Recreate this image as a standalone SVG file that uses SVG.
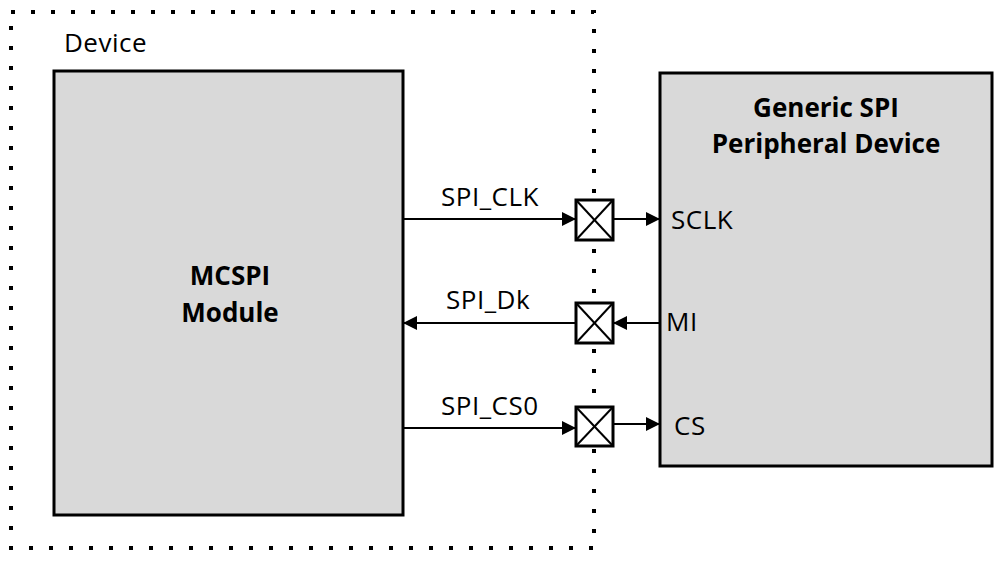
<svg xmlns="http://www.w3.org/2000/svg" width="995" height="572" viewBox="0 0 995 572">
<defs>
<marker id="ah" markerWidth="14" markerHeight="14" refX="13" refY="7" orient="auto" markerUnits="userSpaceOnUse" viewBox="0 0 14 14">
<path d="M0,0 L14,7 L0,14 z" fill="#000"/>
</marker>
<style>
.t{font-family:"Open Sans","Liberation Sans",sans-serif;font-size:26px;fill:#000;letter-spacing:0.5px}
.b{font-weight:bold;letter-spacing:0}
.box{fill:#d9d9d9;stroke:#000;stroke-width:3}
.dot{fill:none;stroke:#000;stroke-width:4;stroke-dasharray:4 16}
.ln{stroke:#000;stroke-width:2;fill:none}
.x{fill:#fff;stroke:#000;stroke-width:3}
.xl{stroke:#000;stroke-width:2}
</style>
</defs>
<g id="device">
<rect class="dot" x="11" y="12" width="583" height="536"/>
<text class="t" x="64" y="52">Device</text>
</g>
<g id="mcspi">
<rect class="box" x="54" y="71" width="349" height="444"/>
<text class="t b" x="230" y="285" text-anchor="middle">MCSPI</text>
<text class="t b" x="230" y="322" text-anchor="middle">Module</text>
</g>
<g id="peripheral">
<rect class="box" x="660" y="73" width="332" height="393"/>
<text class="t b" x="826" y="117" text-anchor="middle">Generic SPI</text>
<text class="t b" x="826" y="153" text-anchor="middle">Peripheral Device</text>
<text class="t" x="671" y="229">SCLK</text>
<text class="t" x="666" y="331">MI</text>
<text class="t" x="674" y="435">CS</text>
</g>
<g id="connectors">
<line class="ln" x1="403" y1="219" x2="575" y2="219" marker-end="url(#ah)"/>
<line class="ln" x1="614" y1="219" x2="659" y2="219" marker-end="url(#ah)"/>
<line class="ln" x1="659" y1="323" x2="614" y2="323" marker-end="url(#ah)"/>
<line class="ln" x1="575" y1="323" x2="404" y2="323" marker-end="url(#ah)"/>
<line class="ln" x1="403" y1="428" x2="575" y2="428" marker-end="url(#ah)"/>
<line class="ln" x1="614" y1="424" x2="659" y2="424" marker-end="url(#ah)"/>
<text class="t" x="441" y="206">SPI_CLK</text>
<text class="t" x="446" y="309">SPI_Dk</text>
<text class="t" x="441" y="415">SPI_CS0</text>
</g>
<g id="pad1">
<rect class="x" x="576" y="200" width="37" height="40"/>
<line class="xl" x1="576" y1="200" x2="613" y2="240"/>
<line class="xl" x1="613" y1="200" x2="576" y2="240"/>
</g>
<g id="pad2">
<rect class="x" x="576" y="303" width="37" height="40"/>
<line class="xl" x1="576" y1="303" x2="613" y2="343"/>
<line class="xl" x1="613" y1="303" x2="576" y2="343"/>
</g>
<g id="pad3">
<rect class="x" x="576" y="407" width="37" height="39"/>
<line class="xl" x1="576" y1="407" x2="613" y2="446"/>
<line class="xl" x1="613" y1="407" x2="576" y2="446"/>
</g>
</svg>
